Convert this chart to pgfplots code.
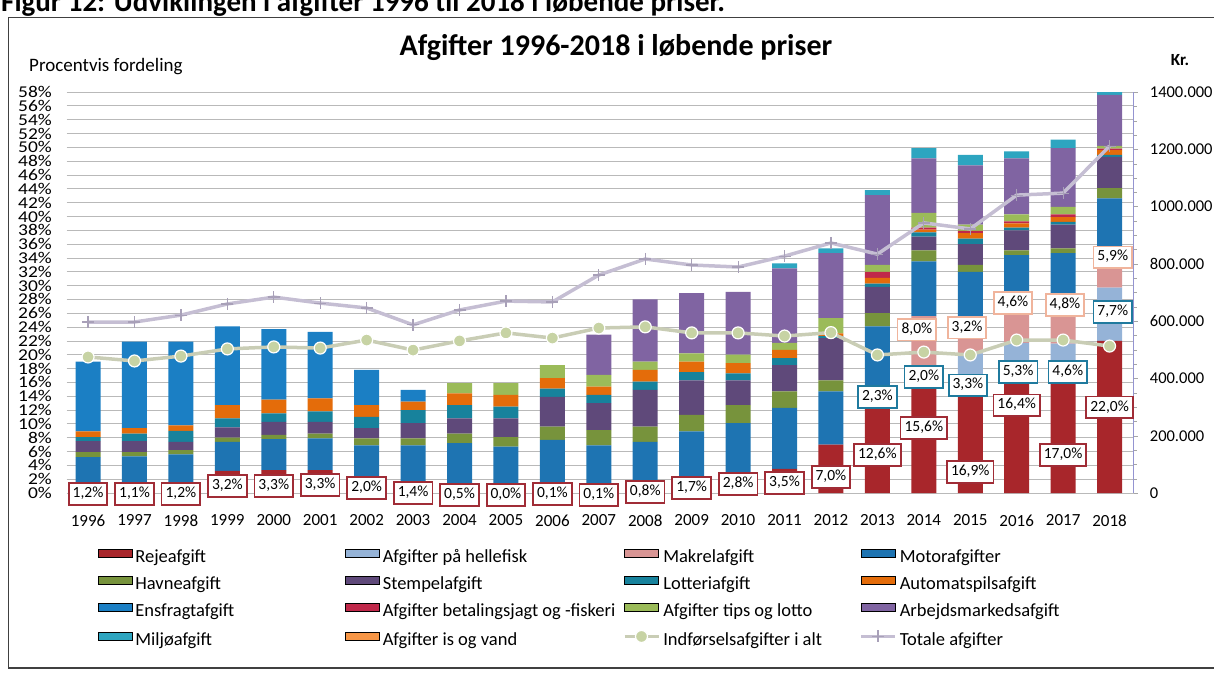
\documentclass[border=0pt]{standalone}
\usepackage{fontspec}
\setmainfont{Carlito}
\newfontfamily\widefont[FakeStretch=1.18]{Carlito}
\usepackage{pgfplots}
\usepackage{pgfplotstable}
\pgfplotsset{compat=1.18}

\definecolor{reje}{HTML}{A8262B}
\definecolor{helle}{HTML}{95B3D7}
\definecolor{makrel}{HTML}{D99594}
\definecolor{motor}{HTML}{1E74B2}
\definecolor{havne}{HTML}{77933C}
\definecolor{stempel}{HTML}{5F497A}
\definecolor{lotteri}{HTML}{17829C}
\definecolor{automat}{HTML}{E46C0A}
\definecolor{ensfragt}{HTML}{1B7FC4}
\definecolor{betal}{HTML}{C0284A}
\definecolor{tips}{HTML}{9BBB59}
\definecolor{arbejd}{HTML}{8064A2}
\definecolor{miljo}{HTML}{2DA5C0}
\definecolor{isvand}{HTML}{F79646}
\definecolor{indfline}{HTML}{C9CDB5}
\definecolor{indfmark}{HTML}{C7D3A4}
\definecolor{totline}{HTML}{C5BED3}
\definecolor{totmark}{HTML}{A8A0B8}
\definecolor{labred}{HTML}{A02C36}
\definecolor{labblue}{HTML}{1F7A9E}
\definecolor{labpink}{HTML}{F0B49C}

\pgfplotsset{
  swatch/.style={legend image code/.code={\fill[##1] (0pt,1pt) rectangle (34pt,9pt);}},
  lineswatch/.style={legend image code/.code={\draw[##1, mark repeat=2, mark phase=2] plot coordinates {(0pt,5pt) (17pt,5pt) (34pt,5pt)};}},
}
\tikzset{labbox/.style={fill=white, line width=1.8pt, inner xsep=4pt, inner ysep=4.5pt,
  font=\fontsize{15.5}{18}\selectfont, text height=10pt, text depth=2.5pt}}
% label: colour, year, position in percent of the left axis (converted to the kr axis), text
\newcommand{\lab}[4]{\node[labbox, draw=#1] at (axis cs:#2,{#3*24137.93}) {#4\%};}

% percent distribution of the stacked bars
\pgfplotstableread{
year reje helle makrel motor havne stempel lotteri automat ensfragt betal tips arbejd miljo isvand
1996 1.2 0 0 4.0 0.7 1.6 0.6 0.8 10.1 0 0 0 0 0
1997 1.1 0 0 4.2 0.6 1.6 1.1 0.8 12.5 0 0 0 0 0
1998 1.2 0 0 4.4 0.6 1.2 1.6 0.8 12.1 0 0 0 0 0
1999 3.2 0 0 4.2 0.6 1.5 1.3 1.9 11.4 0 0 0 0 0
2000 3.3 0 0 4.5 0.6 1.9 1.2 2.0 10.2 0 0 0 0 0
2001 3.3 0 0 4.6 0.7 1.7 1.5 1.9 9.6 0 0 0 0 0
2002 2.0 0 0 4.9 1.0 1.5 1.6 1.7 5.1 0 0 0 0 0
2003 1.4 0 0 5.5 1.0 2.2 1.9 1.2 1.7 0 0 0 0 0
2004 0.5 0 0 6.7 1.4 2.2 1.9 1.7 0 0 1.5 0 0 0
2005 0.0 0 0 6.7 1.4 2.7 1.7 1.7 0 0 1.7 0 0 0
2006 0.1 0 0 7.6 1.9 4.3 1.2 1.5 0 0 1.9 0 0 0
2007 0.1 0 0 6.8 2.2 3.9 1.2 1.2 0 0 1.7 5.8 0 0
2008 0.8 0 0 6.6 2.2 5.3 1.2 1.7 0 0 1.2 9.0 0 0
2009 1.7 0 0 7.2 2.4 5.0 1.2 1.5 0 0 1.2 8.7 0 0
2010 2.8 0 0 7.3 2.6 3.6 1.0 1.5 0 0 1.2 9.1 0 0
2011 3.5 0 0 8.8 2.4 3.8 1.0 1.2 0 0 1.0 10.8 0.7 0
2012 7.0 0 0 7.7 1.6 6.1 0.3 0.4 0 0 2.2 9.4 0.7 0
2013 12.6 2.3 0 9.2 1.9 3.8 0.5 0.8 0 0.9 1.0 10.1 0.7 0
2014 15.6 2.0 8.0 7.9 1.6 2.0 0.6 0.4 0 0.3 2.1 7.9 1.5 0
2015 16.9 3.3 3.2 8.6 1.0 3.0 0.8 0.8 0 0.3 0.9 8.6 1.5 0
2016 16.4 5.3 4.6 8.1 0.7 2.9 0.4 0.6 0 0.3 1.0 8.1 1.0 0
2017 17.0 4.6 4.8 8.3 0.7 3.4 0.4 0.7 0 0.4 1.1 8.5 1.2 0
2018 22.0 7.7 5.9 7.0 1.5 4.5 0.3 0.7 0 0.2 0.4 7.4 0.4 0
}\bardata

% kroner (right axis)
\pgfplotstableread{
year indf total
1996 475000 597000
1997 461000 597000
1998 478000 621000
1999 503000 660000
2000 510000 684000
2001 506000 663000
2002 534000 646000
2003 499000 587000
2004 531000 639000
2005 559000 670000
2006 541000 667000
2007 576000 761000
2008 580000 817000
2009 559000 796000
2010 559000 789000
2011 548000 827000
2012 560000 873000
2013 482000 834000
2014 492000 943000
2015 482000 922000
2016 534000 1040000
2017 534000 1047000
2018 513000 1211000
}\linedata

\begin{document}
\begin{tikzpicture}[x=1pt,y=1pt]
\useasboundingbox (0,0) rectangle (1214,-674);
\node[anchor=base west, inner sep=0, font=\fontsize{29}{32}\selectfont\bfseries] at (1,-12)
  {Figur 12: Udviklingen i afgifter 1996 til 2018 i løbende priser.};
\draw[line width=1.3pt, black!75] (8.3,-17.3) rectangle (1240,-668);
\node[font=\fontsize{30}{34}\selectfont\bfseries] at (616,-48) {Afgifter 1996-2018 i løbende priser};
\node[anchor=west, inner sep=0, font=\fontsize{19}{22}\selectfont] at (29,-67) {Procentvis fordeling};
\node[font=\fontsize{17}{19}\selectfont\bfseries] at (1180,-60) {Kr.};

\begin{axis}[
  at={(66.7pt,-493pt)}, anchor=south west, scale only axis,
  width=1067pt, height=401pt,
  xmin=1995.54, xmax=2018.52, ymin=0, ymax=58,
  ybar stacked, bar width=25pt,
  axis line style={draw=none}, tick style={draw=none},
  ytick={0,2,...,58},
  yticklabel={\pgfmathprintnumber{\tick}\%},
  /pgf/number format/assume math mode=true,
  yticklabel style={font=\widefont\fontsize{16.5}{16.5}\selectfont, anchor=east, inner sep=0pt, xshift=-14.7pt},
  xtick={1996,1997,1998,1999,2000,2001,2002,2003,2004,2005,2006,2007,2008,2009,2010,2011,2012,2013,2014,2015,2016,2017,2018},
  xticklabels={1996,1997,1998,1999,2000,2001,2002,2003,2004,2005,2006,2007,2008,2009,2010,2011,2012,2013,2014,2015,2016,2017,2018},
  xticklabel style={font=\fontsize{17}{17}\selectfont, anchor=north, inner sep=0pt, yshift=-21.5pt},
  ymajorgrids, grid style={gray!55, line width=0.8pt},
]
\addplot[fill=reje, draw=none] table[x=year, y=reje] {\bardata};
\addplot[fill=helle, draw=none] table[x=year, y=helle] {\bardata};
\addplot[fill=makrel, draw=none] table[x=year, y=makrel] {\bardata};
\addplot[fill=motor, draw=none] table[x=year, y=motor] {\bardata};
\addplot[fill=havne, draw=none] table[x=year, y=havne] {\bardata};
\addplot[fill=stempel, draw=none] table[x=year, y=stempel] {\bardata};
\addplot[fill=lotteri, draw=none] table[x=year, y=lotteri] {\bardata};
\addplot[fill=automat, draw=none] table[x=year, y=automat] {\bardata};
\addplot[fill=ensfragt, draw=none] table[x=year, y=ensfragt] {\bardata};
\addplot[fill=betal, draw=none] table[x=year, y=betal] {\bardata};
\addplot[fill=tips, draw=none] table[x=year, y=tips] {\bardata};
\addplot[fill=arbejd, draw=none] table[x=year, y=arbejd] {\bardata};
\addplot[fill=miljo, draw=none] table[x=year, y=miljo] {\bardata};
\addplot[fill=isvand, draw=none] table[x=year, y=isvand] {\bardata};
\end{axis}

\begin{axis}[
  at={(66.7pt,-493pt)}, anchor=south west, scale only axis,
  width=1067pt, height=401pt,
  xmin=1995.54, xmax=2018.52, ymin=0, ymax=1400000, clip=false,
  axis x line=none, axis y line*=right,
  axis line style={draw=gray!60!blue!60, line width=0.8pt},
  ytick={0,200000,400000,600000,800000,1000000,1200000,1400000},
  yticklabels={0,200.000,400.000,600.000,800.000,1000.000,1200.000,1400.000},
  scaled y ticks=false,
  minor y tick num=3, tick align=outside, major tick length=4pt, minor tick length=3pt,
  tick style={gray!70},
  yticklabel style={font=\fontsize{16.5}{16.5}\selectfont, anchor=west, inner sep=0pt, xshift=12pt},
  legend columns=4,
  legend cell align=left,
  legend style={at={(0.0293,-0.1397)}, anchor=north west, draw=none, fill=none,
    inner sep=0pt, outer sep=0pt, row sep=9.7pt,
    font=\fontsize{18.5}{21}\selectfont,
    nodes={inner sep=0pt, text height=12.5pt, text depth=4pt}},
]
\addlegendimage{swatch, fill=reje}\addlegendentry{\makebox[213pt][l]{\hspace{3pt}Rejeafgift}}
\addlegendimage{swatch, fill=helle}\addlegendentry{\makebox[243pt][l]{\hspace{3pt}Afgifter på hellefisk}}
\addlegendimage{swatch, fill=makrel}\addlegendentry{\makebox[199pt][l]{\hspace{3pt}Makrelafgift}}
\addlegendimage{swatch, fill=motor}\addlegendentry{\makebox[180pt][l]{\hspace{3pt}Motorafgifter}}
\addlegendimage{swatch, fill=havne}\addlegendentry{\makebox[213pt][l]{\hspace{3pt}Havneafgift}}
\addlegendimage{swatch, fill=stempel}\addlegendentry{\makebox[243pt][l]{\hspace{3pt}Stempelafgift}}
\addlegendimage{swatch, fill=lotteri}\addlegendentry{\makebox[199pt][l]{\hspace{3pt}Lotteriafgift}}
\addlegendimage{swatch, fill=automat}\addlegendentry{\makebox[180pt][l]{\hspace{3pt}Automatspilsafgift}}
\addlegendimage{swatch, fill=ensfragt}\addlegendentry{\makebox[213pt][l]{\hspace{3pt}Ensfragtafgift}}
\addlegendimage{swatch, fill=betal}\addlegendentry{\makebox[243pt][l]{\hspace{3pt}Afgifter betalingsjagt og -fiskeri}}
\addlegendimage{swatch, fill=tips}\addlegendentry{\makebox[199pt][l]{\hspace{3pt}Afgifter tips og lotto}}
\addlegendimage{swatch, fill=arbejd}\addlegendentry{\makebox[180pt][l]{\hspace{3pt}Arbejdsmarkedsafgift}}
\addlegendimage{swatch, fill=miljo}\addlegendentry{\makebox[213pt][l]{\hspace{3pt}Miljøafgift}}
\addlegendimage{swatch, fill=isvand}\addlegendentry{\makebox[243pt][l]{\hspace{3pt}Afgifter is og vand}}
\addplot[lineswatch, color=indfline, line width=3.5pt, mark=*, mark size=6pt,
  mark options={fill=indfmark, draw=white, line width=1.2pt}]
  table[x=year, y=indf] {\linedata};
\addlegendentry{\makebox[199pt][l]{\hspace{3pt}Indførselsafgifter i alt}}
\addplot[lineswatch, color=totline, line width=3.5pt, mark=+, mark size=6pt,
  mark options={draw=totmark, line width=1.2pt}]
  table[x=year, y=total] {\linedata};
\addlegendentry{\makebox[180pt][l]{\hspace{3pt}Totale afgifter}}
% Rejeafgift labels
\lab{labred}{1996}{-0.14}{1,2}
\lab{labred}{1997}{-0.14}{1,1}
\lab{labred}{1998}{-0.14}{1,2}
\lab{labred}{1999}{1.0}{3,2}
\lab{labred}{2000}{1.0}{3,3}
\lab{labred}{2001}{1.16}{3,3}
\lab{labred}{2002}{0.72}{2,0}
\lab{labred}{2003}{0.0}{1,4}
\lab{labred}{2004}{-0.29}{0,5}
\lab{labred}{2005}{-0.29}{0,0}
\lab{labred}{2006}{-0.14}{0,1}
\lab{labred}{2007}{-0.29}{0,1}
\lab{labred}{2008}{0.14}{0,8}
\lab{labred}{2009}{0.72}{1,7}
\lab{labred}{2010}{1.3}{2,8}
\lab{labred}{2011}{1.45}{3,5}
\lab{labred}{2012}{2.31}{7,0}
\lab{labred}{2013}{5.5}{12,6}
\lab{labred}{2014}{9.4}{15,6}
\lab{labred}{2015}{3.04}{16,9}
\lab{labred}{2016}{12.7}{16,4}
\lab{labred}{2017}{5.5}{17,0}
\lab{labred}{2018}{12.4}{22,0}
% Afgifter paa hellefisk labels
\lab{labblue}{2013}{13.9}{2,3}
\lab{labblue}{2014}{16.8}{2,0}
\lab{labblue}{2014.95}{15.6}{3,3}
\lab{labblue}{2016.03}{17.5}{5,3}
\lab{labblue}{2017.1}{17.5}{4,6}
\lab{labblue}{2018.07}{26.2}{7,7}
% Makrelafgift labels
\lab{labpink}{2013.85}{23.6}{8,0}
\lab{labpink}{2014.93}{23.9}{3,2}
\lab{labpink}{2015.92}{27.5}{4,6}
\lab{labpink}{2017.04}{27.2}{4,8}
\lab{labpink}{2018.07}{34.1}{5,9}
\end{axis}
\end{tikzpicture}
\end{document}
